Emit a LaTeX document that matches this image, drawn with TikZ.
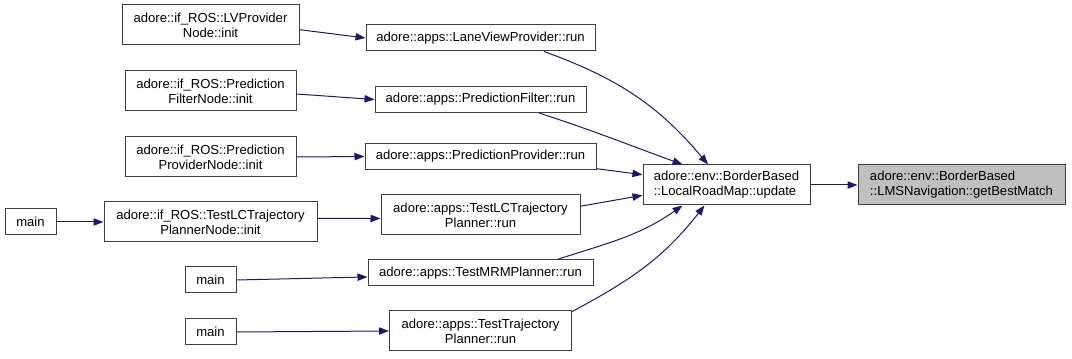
\documentclass[tikz,border=0pt]{standalone}
\usepackage{fontspec}
\setmainfont{Liberation Sans}
\usetikzlibrary{arrows.meta}
\definecolor{EdgeBlue}{HTML}{191970}
\definecolor{NodeLine}{HTML}{404040}
\definecolor{NodeHit}{HTML}{BFBFBF}
\tikzset{
  fn/.style={rectangle,draw=NodeLine,fill=white,line width=0.75pt,inner sep=0pt,
    align=center,font=\fontsize{9.8}{11.25}\selectfont,minimum height=19.5pt},
  fn2/.style={fn,minimum height=30pt},
  wd/.style={minimum width=#1*0.75pt},
  call/.style={EdgeBlue,line width=0.75pt,-{Triangle[length=7.5pt,width=5.5pt]}}
}
\begin{document}
\begin{tikzpicture}[x=0.75pt,y=0.75pt]
\useasboundingbox (0,0) rectangle (1072,-359);
% callers of the callers
\node[fn2,wd=177] (lvn) at (210.5,-25) {adore::if\_ROS::LVProvider\\Node::init};
\node[fn2,wd=171] (pfn) at (210.5,-91) {adore::if\_ROS::Prediction\\FilterNode::init};
\node[fn2,wd=171] (ppn) at (210.5,-157) {adore::if\_ROS::Prediction\\ProviderNode::init};
\node[fn2,wd=213] (tln) at (210.5,-222) {adore::if\_ROS::TestLCTrajectory\\PlannerNode::init};
\node[fn,wd=51] (mainA) at (30.5,-222) {main};
\node[fn,wd=51] (mainB) at (210.5,-280) {main};
\node[fn,wd=51] (mainC) at (210.5,-332) {main};
% run methods
\node[fn,wd=229] (lvr) at (480.5,-38) {adore::apps::LaneViewProvider::run};
\node[fn,wd=211] (pfr) at (480.5,-99.5) {adore::apps::PredictionFilter::run};
\node[fn,wd=231] (ppr) at (480.5,-156.5) {adore::apps::PredictionProvider::run};
\node[fn2,wd=199] (tlr) at (480.5,-215) {adore::apps::TestLCTrajectory\\Planner::run};
\node[fn,wd=225] (mrm) at (480.5,-273) {adore::apps::TestMRMPlanner::run};
\node[fn2,wd=182] (ttr) at (480.5,-331) {adore::apps::TestTrajectory\\Planner::run};
% update and the function itself
\node[fn2,wd=167,align=left] (upd) at (726.5,-185) {adore::env::BorderBased\\::LocalRoadMap::update};
\node[fn2,wd=207,align=left,fill=NodeHit] (gbm) at (961.5,-185) {adore::env::BorderBased\\::LMSNavigation::getBestMatch};

\draw[call] (lvn.-3.2) -- (lvr.west);
\draw[call] (pfn.-2.7) -- (pfr.west);
\draw[call] (ppn.east) -- (ppr.west);
\draw[call] (tln.2.2) -- (tlr.182.3);
\draw[call] (mainA.east) -- (tln.west);
\draw[call] (mainB.east) -- (mrm.182);
\draw[call] (mainC.east) -- (ttr.west);

\draw[call] (lvr.-12.7) to[out=-20,in=130] (upd.132.8);
\draw[call] (pfr.-13.4) to[out=-18,in=160] (upd.155.3);
\draw[call] (ppr.-6.6) -- (upd.173.2);
\draw[call] (tlr.5.2) -- (upd.-173.2);
\draw[call] (mrm.10.9) to[out=18,in=-145] (upd.-155.3);
\draw[call] (ttr.12.6) to[out=28,in=-128] (upd.-137.1);
\draw[call] (upd.east) -- (gbm.west);
\end{tikzpicture}
\end{document}
